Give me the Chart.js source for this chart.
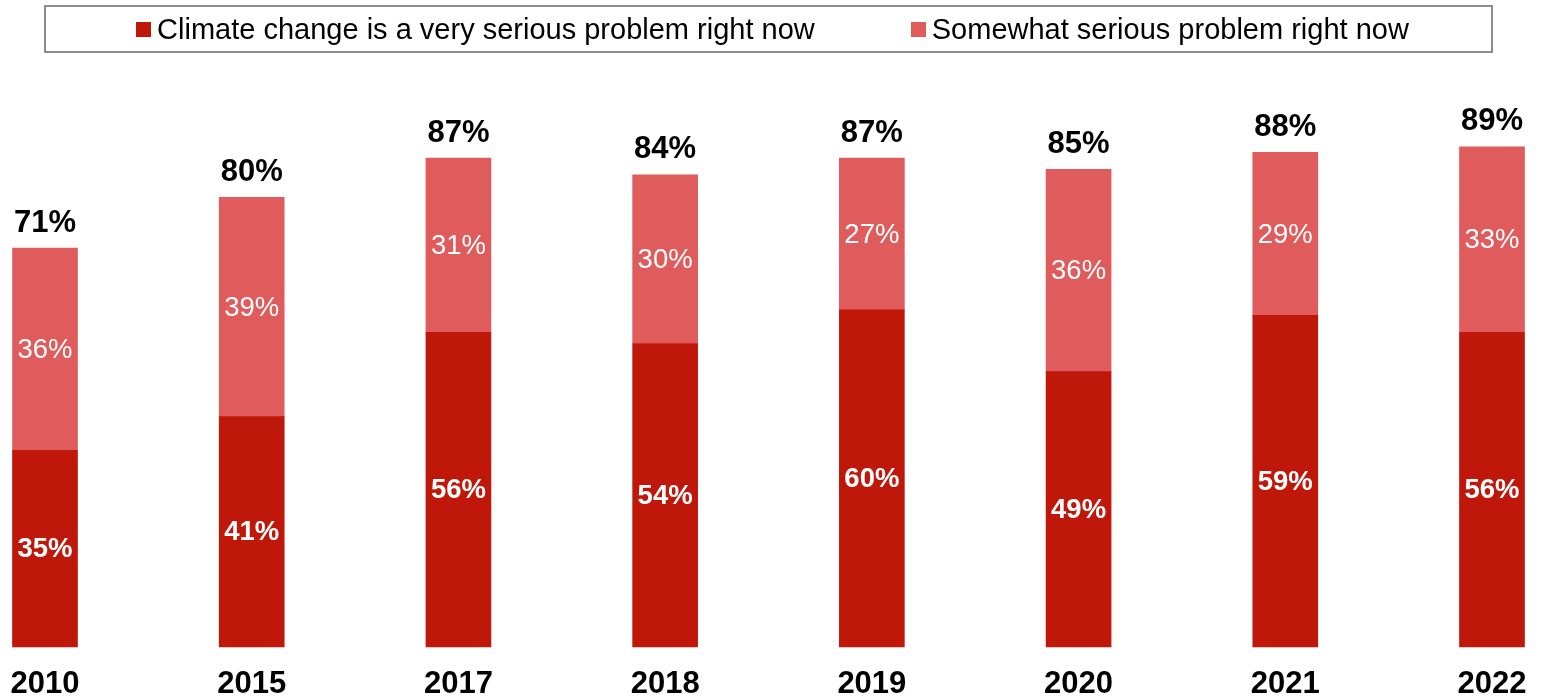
<!DOCTYPE html>
<html>
<head>
<meta charset="utf-8">
<script src="https://cdn.jsdelivr.net/npm/chart.js@4/dist/chart.umd.min.js"></script>
<style>
  html, body { margin: 0; padding: 0; background: #fff; overflow: hidden; }
  #wrap { position: relative; width: 1543px; height: 699px; }
  #legend {
    position: absolute; left: 44px; top: 5px; width: 1437px; height: 44px;
    border: 2px solid #8c8c8c; display: flex; align-items: center; justify-content: center;
    font-family: "Liberation Sans", Arial, sans-serif; font-size: 29px; color: #000;
    box-sizing: content-box; padding-left: 8px;
  }
  #legend .item { display: flex; align-items: center; margin: 0 48px; white-space: nowrap; }
  #legend .box { width: 15px; height: 15px; margin-right: 6px; }
  canvas { position: absolute; left: 0; top: 0; }
</style>
</head>
<body>
<div id="wrap">
  <canvas id="climate-chart" width="1543" height="699"></canvas>
  <div id="legend"></div>
</div>
<script>
"use strict";

const years = ["2010", "2015", "2017", "2018", "2019", "2020", "2021", "2022"];
const verySerious = [35, 41, 56, 54, 60, 49, 59, 56];
const somewhatSerious = [36, 39, 31, 30, 27, 36, 29, 33];
const seriesNames = ["Climate change is a very serious problem right now", "Somewhat serious problem right now"];

const darkRed = "#c0170b";
const lightRed = "#e05b5b";
const fontFamily = "'Liberation Sans', Arial, sans-serif";

// 各セグメント内の値と、積み上げ合計を上に描く
const valueLabels = {
    id: "valueLabels",
    afterDatasetsDraw(chart) {
        const ctx = chart.ctx;
        ctx.save();
        ctx.textAlign = "center";
        ctx.textBaseline = "middle";
        chart.data.datasets.forEach((ds, di) => {
            const meta = chart.getDatasetMeta(di);
            ctx.font = (di === 0 ? "bold " : "") + "27.5px " + fontFamily;
            ctx.fillStyle = "#fff";
            meta.data.forEach((bar, i) => {
                ctx.fillText(ds.data[i] + "%", bar.x, (bar.y + bar.base) / 2 + 1);
            });
        });
        // 合計 (very + somewhat)
        const top = chart.getDatasetMeta(1);
        ctx.font = "bold 31px " + fontFamily;
        ctx.fillStyle = "#000";
        top.data.forEach((bar, i) => {
            const total = verySerious[i] + somewhatSerious[i];
            ctx.fillText(total + "%", bar.x, bar.y - 25);
        });
        ctx.restore();
    },
};

const chart = new Chart(document.getElementById("climate-chart"), {
    type: "bar",
    data: {
        labels: years,
        datasets: [
            {
                label: seriesNames[0],
                data: verySerious,
                backgroundColor: darkRed,
                barThickness: 65,
                clip: false,
            },
            {
                label: seriesNames[1],
                data: somewhatSerious,
                backgroundColor: lightRed,
                barThickness: 65,
                clip: false,
            },
        ],
    },
    options: {
        responsive: false,
        animation: false,
        layout: {
            padding: { top: 85, left: 45, right: 51, bottom: -23 },
        },
        scales: {
            x: {
                stacked: true,
                offset: false,
                grid: { display: false, drawTicks: false },
                border: { display: false },
                ticks: {
                    color: "#000",
                    padding: 22,
                    font: { family: fontFamily, size: 31, weight: "bold", lineHeight: 1 },
                    maxRotation: 0,
                },
                // 端のラベル用の余白は layout.padding で取る
                afterFit(scale) {
                    scale.paddingLeft = 0;
                    scale.paddingRight = 0;
                },
            },
            y: {
                stacked: true,
                display: false,
                min: 0,
                max: 100,
            },
        },
        plugins: {
            legend: { display: false },
            tooltip: { enabled: false },
        },
    },
    plugins: [valueLabels],
});

// 凡例は枠付きの HTML で作る
const legendEl = document.getElementById("legend");
chart.data.datasets.forEach((ds) => {
    const item = document.createElement("div");
    item.className = "item";
    const box = document.createElement("span");
    box.className = "box";
    box.style.background = ds.backgroundColor;
    const text = document.createElement("span");
    text.textContent = ds.label;
    item.appendChild(box);
    item.appendChild(text);
    legendEl.appendChild(item);
});
</script>
</body>
</html>
